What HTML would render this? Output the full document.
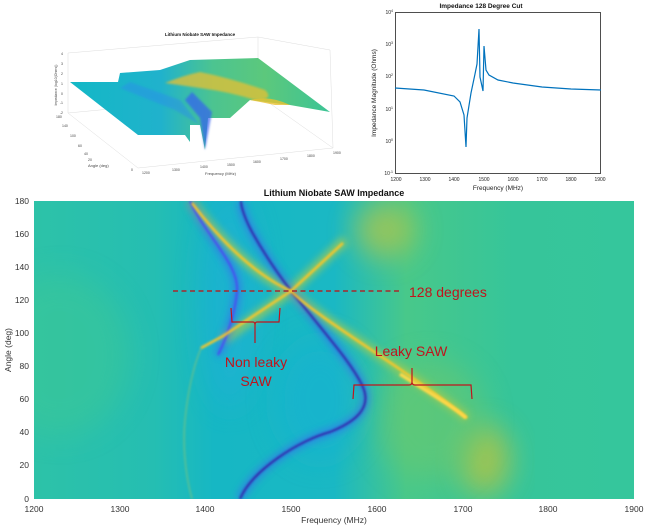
<!DOCTYPE html>
<html><head><meta charset="utf-8"><style>
html,body{margin:0;padding:0;background:#fff;}
svg{display:block;font-family:"Liberation Sans",sans-serif;}
</style></head><body>
<svg width="647" height="527" viewBox="0 0 647 527" xmlns="http://www.w3.org/2000/svg">
<defs>
<filter id="b1" x="-20%" y="-20%" width="140%" height="140%"><feGaussianBlur stdDeviation="1"/></filter>
<filter id="b2" x="-20%" y="-20%" width="140%" height="140%"><feGaussianBlur stdDeviation="2"/></filter>
<filter id="b4" x="-50%" y="-50%" width="200%" height="200%"><feGaussianBlur stdDeviation="4"/></filter>
<filter id="b12" x="-50%" y="-50%" width="200%" height="200%"><feGaussianBlur stdDeviation="14"/></filter>
<clipPath id="hc"><rect x="34" y="201" width="600" height="298"/></clipPath>
<linearGradient id="bg" x1="0" x2="1" y1="0" y2="0">
<stop offset="0" stop-color="#2dc2a8"/><stop offset="0.2" stop-color="#25beb2"/>
<stop offset="0.3" stop-color="#16b7c4"/><stop offset="0.5" stop-color="#1ab8c4"/>
<stop offset="0.62" stop-color="#48c88a"/><stop offset="0.8" stop-color="#36c59a"/><stop offset="1" stop-color="#35c69c"/>
</linearGradient>
<linearGradient id="s3" x1="0" x2="1" y1="0" y2="0">
<stop offset="0" stop-color="#13b8c6"/><stop offset="0.35" stop-color="#20b2cc"/><stop offset="0.55" stop-color="#4cc490"/><stop offset="0.75" stop-color="#5cc87c"/><stop offset="1" stop-color="#3cc496"/>
</linearGradient>
</defs>

<!-- 3D plot -->
<g font-size="4" fill="#444">
<text x="200" y="36" font-size="4.5" font-weight="bold" fill="#111" text-anchor="middle">Lithium Niobate SAW Impedance</text>
<g stroke="#ddd" stroke-width="0.5" fill="none">
<path d="M68 53 L258 37 L330 50 M68 53 L68 113 M258 37 L258 95 M68 113 L138 168 L333 148 M68 113 L258 95 L333 148 M330 50 L333 148"/>
</g>
<polygon points="70,82 118,82 120,73 160,70 190,60 258,58 330,112 290,105 250,100 230,118 208,118 205,150 200,125 190,125 190,142 185,135 138,135" fill="url(#s3)"/>
<path d="M165 83 Q185 75 200 72 Q230 78 265 90 Q275 100 255 100 Q230 92 200 88Z" fill="#e8c030" opacity="0.75" filter="url(#b1)"/>
<path d="M250 100 Q270 95 290 105 L275 105 Z" fill="#e8c030" opacity="0.8"/>
<path d="M205 150 L200 118 L185 100 L192 92 L212 112 Z" fill="#3560f0" opacity="0.7" filter="url(#b1)"/>
<path d="M120 88 L175 110 L200 125 L180 100 L130 82 Z" fill="#2a90e8" opacity="0.5" filter="url(#b1)"/>
<g font-size="3.5" text-anchor="end"><text x="63" y="55">4</text><text x="63" y="65">3</text><text x="63" y="75">2</text><text x="63" y="85">1</text><text x="63" y="95">0</text><text x="63" y="104">-1</text><text x="63" y="114">-2</text></g>
<text x="57" y="85" transform="rotate(-90 57 85)" text-anchor="middle" font-size="3.5">Impedance (log10(Ohms))</text>
<text x="88" y="167">Angle (deg)</text>
<text x="205" y="175">Frequency (MHz)</text>
<g font-size="3.5"><text x="142" y="174">1200</text><text x="172" y="171">1300</text><text x="200" y="168">1400</text><text x="227" y="166">1500</text><text x="253" y="163">1600</text><text x="280" y="160">1700</text><text x="307" y="157">1800</text><text x="333" y="154">1900</text>
<text x="56" y="118">180</text><text x="62" y="127">140</text><text x="70" y="137">100</text><text x="78" y="147">60</text><text x="84" y="155">40</text><text x="88" y="161">20</text><text x="131" y="171">0</text></g>
</g>

<!-- top right plot -->
<g>
<text x="481" y="8" font-size="6.5" font-weight="bold" text-anchor="middle" fill="#111">Impedance 128 Degree Cut</text>
<rect x="395.5" y="12.5" width="205" height="161" fill="#fff" stroke="#222" stroke-width="0.8"/>
<g font-size="5" fill="#222" text-anchor="end">
<text x="393" y="14">10<tspan font-size="3.5" dy="-2">4</tspan></text>
<text x="393" y="46">10<tspan font-size="3.5" dy="-2">3</tspan></text>
<text x="393" y="78">10<tspan font-size="3.5" dy="-2">2</tspan></text>
<text x="393" y="111">10<tspan font-size="3.5" dy="-2">1</tspan></text>
<text x="393" y="143">10<tspan font-size="3.5" dy="-2">0</tspan></text>
<text x="393" y="175">10<tspan font-size="3.5" dy="-2">-1</tspan></text>
</g>
<g font-size="5" fill="#222" text-anchor="middle">
<text x="396" y="181">1200</text><text x="425" y="181">1300</text><text x="454" y="181">1400</text><text x="484" y="181">1500</text><text x="513" y="181">1600</text><text x="542" y="181">1700</text><text x="571" y="181">1800</text><text x="600" y="181">1900</text>
</g>
<text x="498" y="190" font-size="6.5" text-anchor="middle" fill="#222">Frequency (MHz)</text>
<text x="376" y="93" font-size="6.5" text-anchor="middle" fill="#222" transform="rotate(-90 376 93)">Impedance Magnitude (Ohms)</text>
<path d="M395 88 L424 90 L454 96 L460 102 L464 115 L466 147 L467 118 L471 93 L475 74 L477 64 L479 29 L480 77 L483 91 L484 46 L486 70 L489 75 L498 80 L513 83 L542 87 L571 89 L601 90" fill="none" stroke="#0072bd" stroke-width="1.2"/>
</g>

<!-- heatmap -->
<text x="334" y="196" font-size="9" font-weight="bold" text-anchor="middle" fill="#111">Lithium Niobate SAW Impedance</text>
<g clip-path="url(#hc)">
<rect x="34" y="201" width="600" height="298" fill="url(#bg)"/>
<ellipse cx="60" cy="355" rx="70" ry="80" fill="#3cc894" opacity="0.5" filter="url(#b12)"/>
<ellipse cx="385" cy="230" rx="30" ry="28" fill="#b8c644" opacity="0.7" filter="url(#b12)"/>
<ellipse cx="485" cy="460" rx="25" ry="35" fill="#c0c43e" opacity="0.75" filter="url(#b12)"/>
<ellipse cx="430" cy="420" rx="55" ry="60" fill="#70c86a" opacity="0.5" filter="url(#b12)"/>
<ellipse cx="230" cy="300" rx="30" ry="110" fill="#20aedc" opacity="0.45" filter="url(#b12)"/>
<ellipse cx="320" cy="400" rx="45" ry="60" fill="#14b2d2" opacity="0.6" filter="url(#b12)"/>
<g fill="none" stroke="#a6cc50" stroke-width="9" filter="url(#b4)" opacity="0.8">
<path d="M190 201 C220 240 255 275 291 291 L345 240"/>
<path d="M223 340 L291 291 C320 320 400 365 467 418"/>
</g>
<g fill="none" stroke="#3a6af2" stroke-width="7" filter="url(#b4)" opacity="0.7">
<path d="M240 499 C252 470 300 440 330 432 C360 420 372 405 362 385 C352 365 335 345 291 291 C275 270 262 250 252 232 C243 215 241 205 241 201"/>
<path d="M190 201 C205 235 240 265 237 292 C235 312 228 335 218 355"/>
</g>
<path d="M240 499 C252 470 300 440 330 432 C360 420 372 405 362 385 C352 365 335 345 291 291 C275 270 262 250 252 232 C243 215 241 205 241 201" fill="none" stroke="#3020a8" stroke-width="2" filter="url(#b1)"/>
<path d="M190 201 C205 235 240 265 237 292 C235 312 228 335 218 355" fill="none" stroke="#4a4cf0" stroke-width="2" filter="url(#b1)"/>
<path d="M201 348 C194 365 188 390 185 420 C183 440 184 470 192 499" fill="none" stroke="#a8c860" stroke-width="1.2" opacity="0.6" filter="url(#b1)"/>
<path d="M192 203 C220 240 255 275 291 291 L343 243" fill="none" stroke="#f8c62a" stroke-width="2.5" filter="url(#b1)"/>
<path d="M201 348 L223 336 L291 291 C320 320 400 365 467 418" fill="none" stroke="#f8c62a" stroke-width="2.5" filter="url(#b1)"/>
<path d="M400 374 C430 393 455 408 466 418" fill="none" stroke="#ffd848" stroke-width="3.5" filter="url(#b1)"/>
</g>
<g font-size="8.5" fill="#333">
<g text-anchor="end">
<text x="29" y="204">180</text><text x="29" y="237">160</text><text x="29" y="270">140</text><text x="29" y="303">120</text><text x="29" y="336">100</text><text x="29" y="369">80</text><text x="29" y="402">60</text><text x="29" y="435">40</text><text x="29" y="468">20</text><text x="29" y="502">0</text>
</g>
<g text-anchor="middle">
<text x="34" y="512">1200</text><text x="120" y="512">1300</text><text x="205" y="512">1400</text><text x="291" y="512">1500</text><text x="377" y="512">1600</text><text x="463" y="512">1700</text><text x="548" y="512">1800</text><text x="634" y="512">1900</text>
</g>
<text x="334" y="523" text-anchor="middle">Frequency (MHz)</text>
<text x="11" y="350" text-anchor="middle" transform="rotate(-90 11 350)">Angle (deg)</text>
</g>
<g stroke="#c0141c" fill="none" stroke-width="1.2">
<line x1="173" y1="291" x2="402" y2="291" stroke="#a8282c" stroke-width="1.4" stroke-dasharray="5,3.5"/>
<path d="M231 308 L232 322 L253 322 Q255 322 255 325 L255 343 M255 325 Q255 322 257 322 L279 322 L280 308"/>
<path d="M353 399 L354 385 L409 385 Q412 385 412 382 L412 368 M412 382 Q412 385 415 385 L471 385 L472 399"/>
</g>
<g fill="#c0141c" font-size="14">
<text x="409" y="297">128 degrees</text>
<text x="256" y="367" text-anchor="middle">Non leaky</text>
<text x="256" y="386" text-anchor="middle">SAW</text>
<text x="411" y="356" text-anchor="middle">Leaky SAW</text>
</g>
</svg>
</body></html>
